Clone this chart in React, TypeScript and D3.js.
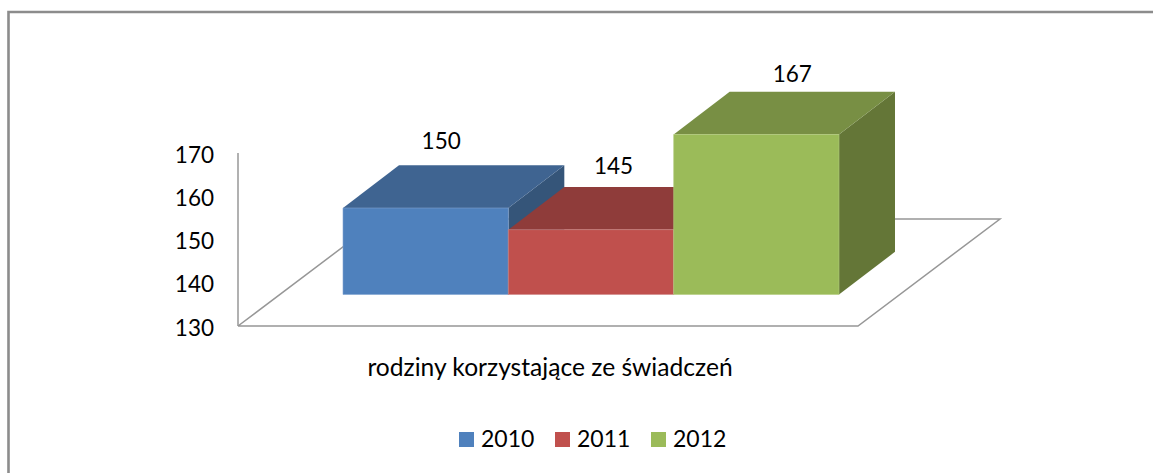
import React from "react";
import * as d3 from "d3";

const years = ["2010", "2011", "2012"];
const values = [150, 145, 167];
const yTicks = [130, 140, 150, 160, 170];
const categoryLabel = "rodziny korzystające ze świadczeń";
const frontColors = ["#4F81BD", "#C0504D", "#9BBB59"];
const topColors = ["#3F6491", "#8F3C3A", "#788F44"];
const sideColors = ["#355579", "#7A3230", "#647637"];
const edgeColors = ["#7FA3D0", "#D08A88", "#B4CC80"];
const labelNudgeX = [15.5, 22.5, 36];
const labelNudgeY = [-16.5, -13, -9.5];

const W = 1153;
const H = 473;
const FONT = "Lato, Carlito, Calibri, sans-serif";
const AXIS_COLOR = "#979797";

const axisX = 238;
const floorY = 326;
const wallTop = 153;
const floorRight = 858;
const floorDx = 142;
const floorDy = -107;
const barInsetY = 31.5;
const depthDx = 56;
const depthDy = -42.7;

const yScale = d3.scaleLinear().domain([130, 170]).range([floorY, wallTop]);
const xScale = d3.scaleBand<string>().domain(years).range([343, 839]).padding(0);
const legendX = d3.scaleOrdinal<string, number>().domain(years).range([459, 555, 651]);
const poly = d3.line();

type P = [number, number];

export default function App() {
  const base = floorY - barInsetY;
  const bw = xScale.bandwidth();
  const floor: P[] = [
    [axisX, floorY],
    [floorRight, floorY],
    [floorRight + floorDx, floorY + floorDy],
    [axisX + floorDx, floorY + floorDy],
    [axisX, floorY],
  ];
  return (
    <svg
      width={W}
      height={H}
      viewBox={`0 0 ${W} ${H}`}
      style={{ position: "fixed", left: 0, top: 0, display: "block", background: "#fff" }}
      fontFamily={FONT}
      fill="#000"
    >
      <path d="M8.5 473V12H1153" fill="none" stroke="#8C8C8C" strokeWidth={2.6} />
      <path d={poly(floor) ?? ""} fill="#fff" stroke={AXIS_COLOR} strokeWidth={1.5} />
      <line x1={axisX} x2={axisX} y1={floorY} y2={wallTop} stroke={AXIS_COLOR} strokeWidth={1.5} />
      {yTicks.map((t) => (
        <text key={t} x={214} y={yScale(t) + 9.5} fontSize={22.5} textAnchor="end">
          {t}
        </text>
      ))}
      {years.map((yr, i) => {
        const x0 = xScale(yr) as number;
        const x1 = x0 + bw;
        const top = yScale(values[i]) - barInsetY;
        const front: P[] = [[x0, base], [x1, base], [x1, top], [x0, top]];
        const roof: P[] = [[x0, top], [x1, top], [x1 + depthDx, top + depthDy], [x0 + depthDx, top + depthDy]];
        const side: P[] = [[x1, base], [x1 + depthDx, base + depthDy], [x1 + depthDx, top + depthDy], [x1, top]];
        return (
          <g key={yr}>
            <path d={(poly(side) ?? "") + "Z"} fill={sideColors[i]} />
            <path d={(poly(roof) ?? "") + "Z"} fill={topColors[i]} />
            <path d={(poly(front) ?? "") + "Z"} fill={frontColors[i]} />
            <path
              d={(poly(front) ?? "") + "Z"}
              fill="none"
              stroke={edgeColors[i]}
              strokeWidth={0.6}
            />
          </g>
        );
      })}
      {years.map((yr, i) => (
        <text
          key={yr}
          x={(xScale(yr) as number) + bw / 2 + labelNudgeX[i]}
          y={yScale(values[i]) - barInsetY + depthDy + labelNudgeY[i]}
          fontSize={22.5}
          textAnchor="middle"
        >
          {values[i]}
        </text>
      ))}
      <text x={550} y={376} fontSize={24.6} textAnchor="middle">
        {categoryLabel}
      </text>
      {years.map((yr, i) => (
        <g key={yr}>
          <rect x={legendX(yr)} y={432} width={15} height={15} fill={frontColors[i]} />
          <text x={legendX(yr) + 22} y={447} fontSize={23}>
            {yr}
          </text>
        </g>
      ))}
    </svg>
  );
}
